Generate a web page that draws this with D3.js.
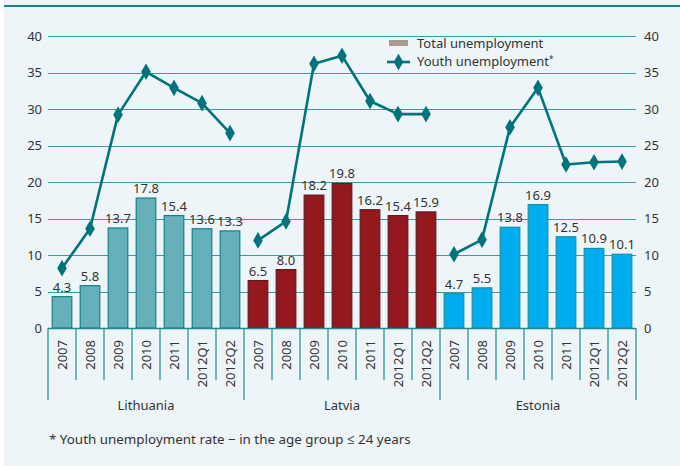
<!DOCTYPE html>
<html><head><meta charset="utf-8">
<script src="https://cdn.jsdelivr.net/npm/d3@7"></script>
<style>
html,body{margin:0;padding:0;background:#fff;}
svg text{font-family:"Noto Sans","Open Sans",sans-serif;fill:#333;}
</style></head>
<body><svg id="c" width="680" height="466"></svg>
<script>
const countries = ["Lithuania","Latvia","Estonia"];
const periods = ["2007","2008","2009","2010","2011","2012Q1","2012Q2"];
const totalLithuania = [4.3,5.8,13.7,17.8,15.4,13.6,13.3];
const totalLatvia    = [6.5,8.0,18.2,19.8,16.2,15.4,15.9];
const totalEstonia   = [4.7,5.5,13.8,16.9,12.5,10.9,10.1];
const youthLithuania = [8.2,13.6,29.2,35.1,32.9,30.8,26.7];
const youthLatvia    = [12.0,14.6,36.2,37.3,31.1,29.3,29.3];
const youthEstonia   = [10.1,12.1,27.5,32.9,22.4,22.7,22.8];
const yTicks = [0,5,10,15,20,25,30,35,40];
const barColors = ["#66b0b9","#94191e","#00aeef"];
const barStrokes = ["#17808a","#5e1a1c","#1490a8"];
const legendLabels = ["Total unemployment","Youth unemployment"];
const footnote = "* Youth unemployment rate \u2212 in the age group \u2264 24 years";

(function(){
const totals = [totalLithuania,totalLatvia,totalEstonia];
const youths = [youthLithuania,youthLatvia,youthEstonia];
const data = [];
countries.forEach((c,ci)=>periods.forEach((p,pi)=>data.push({key:c+"|"+p,country:c,ci,period:p,total:totals[ci][pi],youth:youths[ci][pi]})));

const svg = d3.select("#c");
const W=680,H=466;
const teal="#1f8a92", grid="#3d9aa1", lineC="#00737b";
svg.append("rect").attr("x",4).attr("y",0).attr("width",W-4).attr("height",H).attr("fill","#edf5f8");
svg.append("line").attr("x1",4).attr("x2",W).attr("y1",6).attr("y2",6).attr("stroke","#1e8088").attr("stroke-width",2);

const mL=48,mR=636,mT=36,mB=328;
const x = d3.scaleBand().domain(data.map(d=>d.key)).range([mL,mR]).paddingInner(0.3).paddingOuter(0.15);
const step = (mR-mL)/data.length;
const y = d3.scaleLinear().domain([0,40]).range([mB,mT]);

svg.append("g").selectAll("line").data(yTicks.filter(t=>t>0)).join("line")
  .attr("x1",mL).attr("x2",mR).attr("y1",d=>Math.round(y(d))+0.5).attr("y2",d=>Math.round(y(d))+0.5)
  .attr("stroke",grid).attr("stroke-width",1.2);

const yl = d3.axisLeft(y).tickValues(yTicks).tickSize(0).tickPadding(6);
const gL = svg.append("g").attr("transform",`translate(${mL},0)`).call(yl);
gL.select(".domain").remove();
gL.selectAll("text").attr("font-size",13).attr("fill","#333").style("font-family",'"Noto Sans",sans-serif');
const yr = d3.axisRight(y).tickValues(yTicks).tickSize(0).tickPadding(8);
const gR = svg.append("g").attr("transform",`translate(${mR},0)`).call(yr);
gR.select(".domain").remove();
gR.selectAll("text").attr("font-size",13).attr("fill","#333").style("font-family",'"Noto Sans",sans-serif');

svg.append("g").selectAll("rect").data(data).join("rect")
  .attr("x",d=>x(d.key)).attr("width",x.bandwidth())
  .attr("y",d=>y(d.total)).attr("height",d=>y(0)-y(d.total))
  .attr("fill",d=>barColors[d.ci]).attr("stroke",d=>barStrokes[d.ci]).attr("stroke-width",1.2);

svg.append("g").selectAll("text").data(data).join("text")
  .attr("x",d=>x(d.key)+x.bandwidth()/2).attr("y",d=>y(d.total)-5)
  .attr("text-anchor","middle").attr("font-size",13).attr("fill","#333")
  .text(d=>d.total.toFixed(1));

svg.append("line").attr("x1",mL).attr("x2",mR).attr("y1",mB+0.5).attr("y2",mB+0.5).attr("stroke",teal).attr("stroke-width",1.5);

const bounds = d3.range(data.length+1);
svg.append("g").selectAll("line").data(bounds).join("line")
  .attr("x1",i=>mL+i*step).attr("x2",i=>mL+i*step)
  .attr("y1",mB).attr("y2",i=>i%periods.length===0?400:380)
  .attr("stroke",teal).attr("stroke-width",1.2);

svg.append("g").selectAll("text").data(data).join("text")
  .attr("transform",d=>`translate(${x(d.key)+x.bandwidth()/2+4.5},340) rotate(-90)`)
  .attr("text-anchor","end").attr("font-size",13).attr("fill","#333")
  .text(d=>d.period);

svg.append("g").selectAll("text").data(countries).join("text")
  .attr("x",(c,i)=>mL+(i+0.5)*periods.length*step).attr("y",410)
  .attr("text-anchor","middle").attr("font-size",13).attr("fill","#333").text(c=>c);

const line = d3.line().x(d=>x(d.key)+x.bandwidth()/2).y(d=>y(d.youth));
const diamond = d3.symbol().type(d3.symbolDiamond).size(80);
countries.forEach((c,ci)=>{
  const ds = data.filter(d=>d.ci===ci);
  svg.append("path").datum(ds).attr("d",line).attr("fill","none").attr("stroke",lineC).attr("stroke-width",2.6).attr("stroke-linejoin","round");
  svg.append("g").selectAll("path").data(ds).join("path")
    .attr("transform",d=>`translate(${x(d.key)+x.bandwidth()/2},${y(d.youth)})`)
    .attr("d",diamond).attr("fill",lineC);
});

const lg = svg.append("g");
lg.append("rect").attr("x",389).attr("y",40).attr("width",19).attr("height",6).attr("fill","#a89b8f");
lg.append("text").attr("x",417).attr("y",48).attr("font-size",13).attr("fill","#333").text(legendLabels[0]);
lg.append("line").attr("x1",387).attr("x2",410).attr("y1",62).attr("y2",62).attr("stroke",lineC).attr("stroke-width",2.6);
lg.append("path").attr("transform","translate(398.5,62)").attr("d",diamond).attr("fill",lineC);
const t2 = lg.append("text").attr("x",417).attr("y",66).attr("font-size",13).attr("fill","#333").text(legendLabels[1]);
t2.append("tspan").attr("font-size",8).attr("dy",-4).text("*");

svg.append("text").attr("x",49).attr("y",444).attr("font-size",13.4).attr("fill","#333").text(footnote);
})();
</script></body></html>
